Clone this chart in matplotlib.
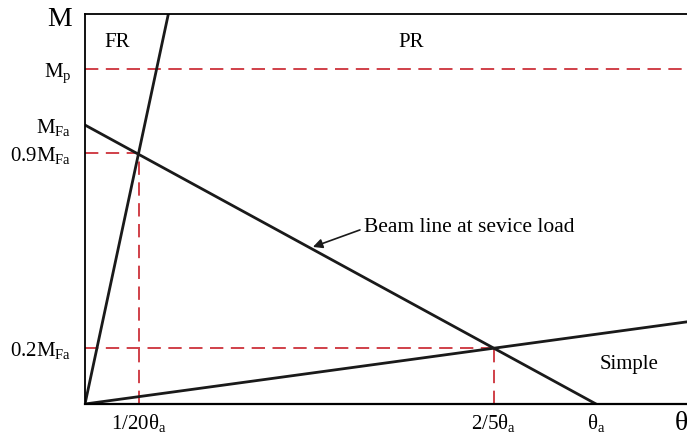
import matplotlib
matplotlib.use("Agg")
import matplotlib.pyplot as plt

plt.rcParams["font.family"] = ["Liberation Serif", "DejaVu Serif"]
plt.rcParams["mathtext.fontset"] = "custom"
plt.rcParams["mathtext.rm"] = "Liberation Serif"
plt.rcParams["mathtext.it"] = "Liberation Serif:italic"

# Rotation (fraction of theta_a) and moment (fraction of M_Fa)
theta_ticks = [0.105, 0.8, 1.0]
theta_labels = [r"1/20θ$_\mathrm{a}$", r"2/5θ$_\mathrm{a}$", r"θ$_\mathrm{a}$"]
moment_ticks = [0.2, 0.9, 1.0, 1.2]
moment_labels = [r"0.2M$_\mathrm{Fa}$", r"0.9M$_\mathrm{Fa}$",
                 r"M$_\mathrm{Fa}$", r"M$_\mathrm{p}$"]

beam_theta = [0.0, 1.0]
beam_moment = [1.0, 0.0]
fr_point = (0.105, 0.9)     # FR connection meets the beam line
simple_point = (0.8, 0.2)   # simple connection meets the beam line
mp_level = 1.2

theta_max = 1.178
moment_max = 1.398

fig = plt.figure(figsize=(6.87, 4.38), dpi=100)
ax = fig.add_axes([85 / 687, 34 / 438, 602 / 687, 390 / 438])
ax.set_xlim(0, theta_max)
ax.set_ylim(0, moment_max)

red = "#c8202a"
dash = dict(color=red, lw=1.2, dashes=(8, 4.5))

# reference moment levels
ax.axhline(mp_level, **dash)
ax.plot([0, fr_point[0]], [fr_point[1]] * 2, **dash)
ax.plot([fr_point[0]] * 2, [0, fr_point[1]], **dash)
ax.plot([0, simple_point[0]], [simple_point[1]] * 2, **dash)
ax.plot([simple_point[0]] * 2, [0, simple_point[1]], **dash)

# connection curves and beam line
ax.axline((0, 0), fr_point, color="#1a1a1a", lw=2.0)
ax.axline((0, 0), simple_point, color="#1a1a1a", lw=2.0)
ax.plot(beam_theta, beam_moment, color="#1a1a1a", lw=2.0)

ax.spines["right"].set_visible(False)
ax.spines["left"].set_linewidth(1.3)
ax.spines["top"].set_linewidth(1.3)
ax.spines["bottom"].set_linewidth(1.6)

ax.set_xticks(theta_ticks)
ax.set_xticklabels(theta_labels)
ax.set_yticks(moment_ticks)
ax.set_yticklabels(moment_labels)
ax.tick_params(axis="both", length=0, labelsize=15)
ax.tick_params(axis="y", pad=10)
ax.tick_params(axis="x", pad=6)

ax.text(-0.042, 0.985, "M", transform=ax.transAxes, fontsize=20,
        ha="center", va="center", clip_on=False)
ax.text(0.99, -0.05, "θ", transform=ax.transAxes, fontsize=20,
        ha="center", va="center", clip_on=False)

ax.text(0.063, 1.297, "FR", fontsize=15, ha="center", va="center")
ax.text(0.638, 1.297, "PR", fontsize=15, ha="center", va="center")
ax.text(1.065, 0.14, "Simple", fontsize=15, ha="center", va="center")

ax.text(0.546, 0.631, "Beam line at sevice load", fontsize=15.5,
        ha="left", va="center")
ax.annotate("", xy=(0.446, 0.563), xytext=(0.538, 0.624),
            arrowprops=dict(arrowstyle="-|>", color="#1a1a1a", lw=1.2,
                            mutation_scale=14, shrinkA=0, shrinkB=0))

fig.savefig("out.png", dpi=100)
